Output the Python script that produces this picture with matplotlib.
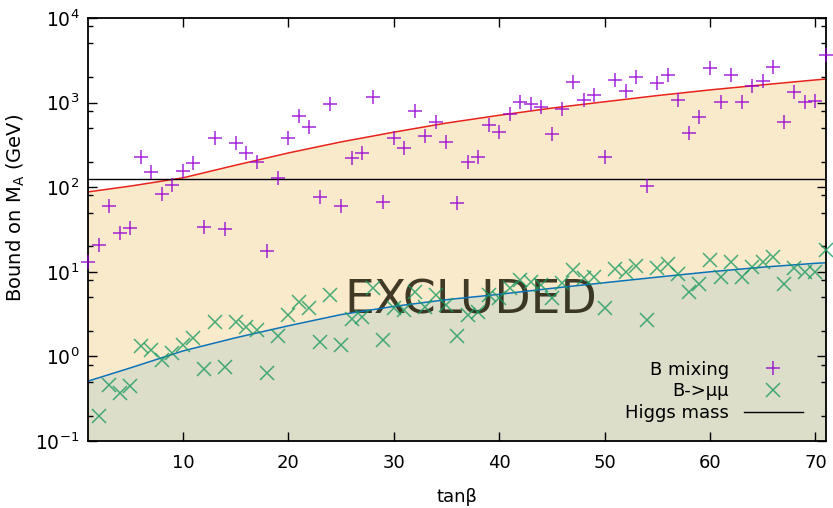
import numpy as np
import matplotlib
matplotlib.use('Agg')
import matplotlib.pyplot as plt
from matplotlib.ticker import LogLocator, LogFormatterMathtext, NullFormatter, FixedLocator

# scan points, one per integer tan(beta)
tanb_mix = np.arange(1, 72)
bmix = [13, 21, 60, 29, 33, 229, 152, 82, 107, 154,
        195, 34, 385, 32, 331, 257, 200, 17.4, 127, 378,
        700, 519, 76, 955, 60, 224, 252, 1170, 66, 378,
        293, 793, 398, 596, 346, 65, 200, 229, 543, 453,
        728, 1007, 955, 890, 422, 830, 1766, 1071, 1233, 229,
        1849, 1371, 2024, 104, 1690, 2120, 1071, 440, 681, 2588,
        1007, 2120, 1007, 1585, 1800, 2655, 596, 1346, 1023, 1045,
        3660]

tanb_mumu = np.arange(2, 72)
bmumu = [0.197, 0.459, 0.366, 0.45, 1.33, 1.19, 0.906, 1.09, 1.36,
         1.66, 0.71, 2.53, 0.755, 2.53, 2.24, 2.05, 0.63, 1.76, 3.09,
         4.37, 3.77, 1.49, 5.32, 1.36, 2.77, 2.94, 6.38, 1.56, 3.7,
         3.53, 5.82, 3.87, 5.32, 4.06, 1.76, 3.09, 3.37, 5.32, 4.87,
         6.49, 8.0, 7.63, 6.98, 4.94, 7.3, 10.5, 8.37, 8.75, 3.77,
         10.8, 9.86, 11.8, 2.69, 11.0, 12.3, 9.33, 5.82, 7.1, 13.8,
         8.75, 12.9, 8.75, 11.5, 13.1, 15.1, 7.1, 11, 10, 10,
         18.1]

# exclusion bounds
curve_t = [1, 5, 10, 15, 20, 25, 30, 35, 40, 45, 50, 55, 60, 65, 70, 71]
mix_bound = [88, 103, 129, 182, 254, 343, 447, 573, 708, 861, 1023, 1211, 1413, 1622, 1854, 1900]
mumu_bound = [0.51, 0.73, 1.16, 1.66, 2.3, 3.12, 3.9, 4.68, 5.42, 6.38, 7.43, 8.65, 10.0, 11.35, 12.6, 12.8]
higgs_mass = 125

fs = 13
plt.rcParams['font.family'] = ['DejaVu Sans']
fig = plt.figure(figsize=(8.33, 5.08), dpi=100)
ax = fig.add_axes([88/833, 1 - 441/508, 738/833, 423/508])

ax.fill_between(curve_t, 1e-3, mix_bound, color='#faeacc', lw=0, zorder=0)
ax.fill_between(curve_t, 1e-3, mumu_bound, color='#dcdec9', lw=0, zorder=0.5)
ax.plot(curve_t, mix_bound, color='#e8231c', lw=1.1, zorder=2)
ax.plot(curve_t, mumu_bound, color='#0a72b8', lw=1.1, zorder=2)

ax.text(0.518, 0.332, 'EXCLUDED', transform=ax.transAxes, fontsize=34,
        ha='center', va='center', color='#1e1a08', alpha=0.85, zorder=1)

ax.plot(tanb_mix, bmix, ls='none', marker='+', ms=10.5, mew=1.1,
        color='#9400d3', alpha=0.85, clip_on=False, zorder=3, label='B mixing')
ax.plot(tanb_mumu, bmumu, ls='none', marker='x', ms=10, mew=1.1,
        color='#1b9a60', alpha=0.8, clip_on=False, zorder=3, label='B->μμ')
ax.axhline(higgs_mass, color='black', lw=1, zorder=2.5, label='Higgs mass')

ax.set_yscale('log')
ax.set_xlim(1, 71)
ax.set_ylim(0.1, 1e4)
ax.xaxis.set_major_locator(FixedLocator([10, 20, 30, 40, 50, 60, 70]))
ax.yaxis.set_major_locator(LogLocator(base=10, numticks=10))
ax.yaxis.set_major_formatter(LogFormatterMathtext())
ax.yaxis.set_minor_locator(LogLocator(base=10, subs=[2, 5, 8], numticks=10))
ax.yaxis.set_minor_formatter(NullFormatter())
ax.tick_params(which='both', direction='in', top=True, right=True, labelsize=fs)
ax.tick_params(axis='y', labelsize=13.5)
ax.tick_params(which='major', length=6.5, width=1)
ax.tick_params(which='minor', length=3.5, width=1)
ax.tick_params(axis='x', pad=9)
ax.tick_params(axis='y', pad=6)
for s in ax.spines.values():
    s.set_linewidth(1.3)

ax.set_xlabel('tanβ', fontsize=fs, labelpad=12)
ax.set_ylabel('Bound on M$_\\mathrm{A}$ (GeV)', fontsize=14)
ax.yaxis.set_label_coords(-0.082, 0.55)

leg = ax.legend(loc='lower right', bbox_to_anchor=(0.969, 0.045), frameon=False,
                markerfirst=False, fontsize=fs, handlelength=3.3, handletextpad=0.8,
                labelspacing=0.2, borderpad=0, borderaxespad=0)
for t in leg.get_texts():
    t.set_ha('right')

fig.savefig('out.png', dpi=100)
